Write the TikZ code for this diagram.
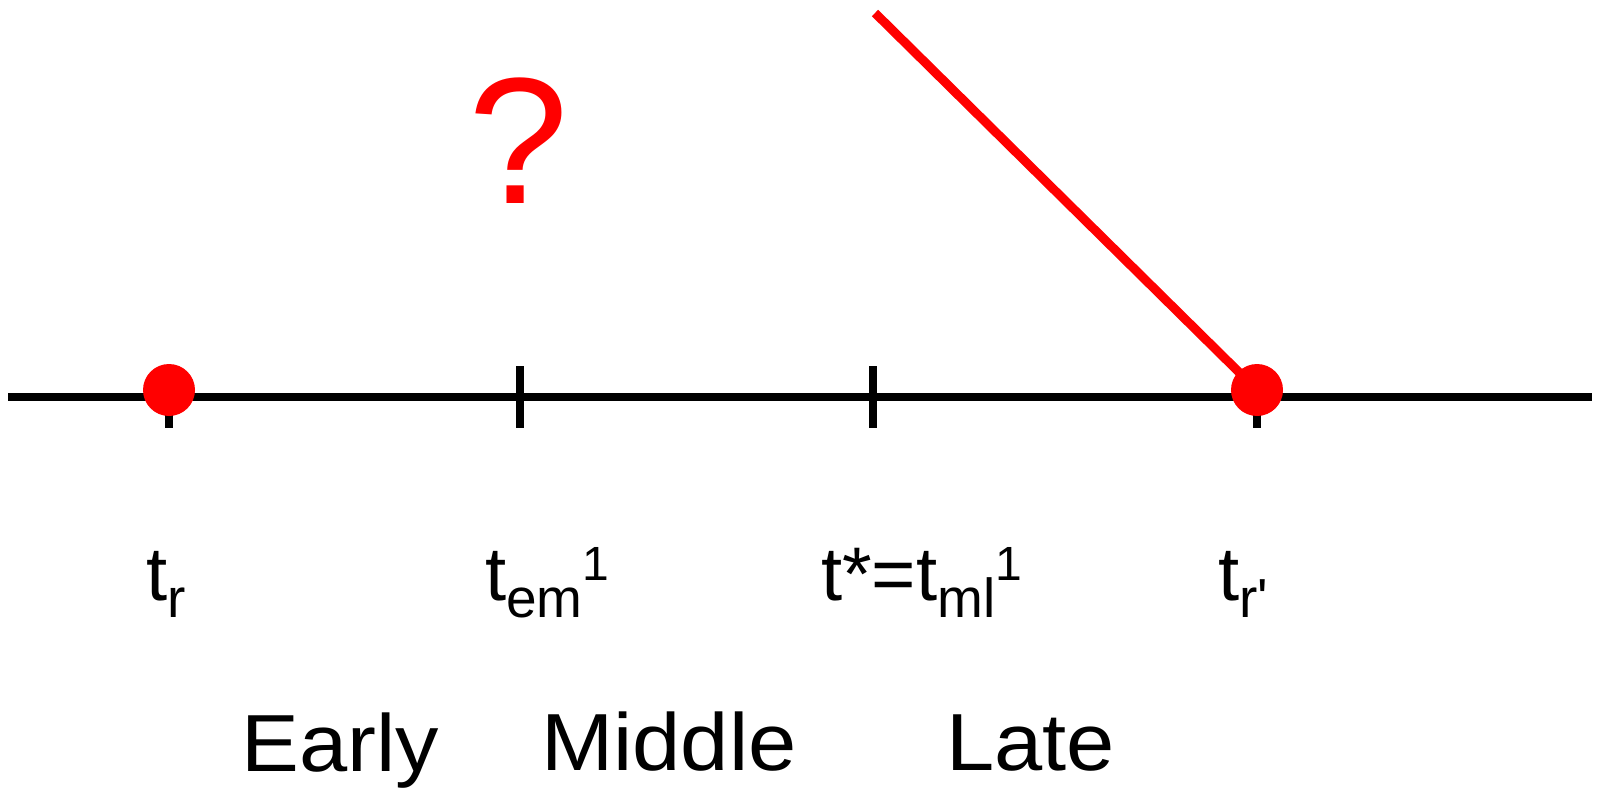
\documentclass[tikz,border=0pt]{standalone}
\usepackage{graphicx}
\usepackage{fontspec}
\setmainfont{Liberation Sans}
\newfontfamily\plainfont{Liberation Sans}
\newcommand{\lowr}[1]{\raisebox{-17pt}{\fontsize{55}{55}\selectfont #1}}
\newcommand{\highr}[1]{\raisebox{20pt}{\fontsize{48}{48}\selectfont #1}}
\newcommand{\wide}[1]{\scalebox{1.07}[1]{#1}}
\tikzset{
  axisline/.style={line width=8pt},
  tickmark/.style={line width=8pt},
  reddot/.style={circle, fill=red, inner sep=0pt, minimum size=52pt},
  redline/.style={red, line width=9pt},
  lbl/.style={anchor=base west, inner sep=0pt, font=\fontsize{76}{76}\selectfont},
  phase/.style={anchor=base west, inner sep=0pt, font=\fontsize{81}{81}\selectfont},
}
\begin{document}
\begin{tikzpicture}[x=1pt,y=-1pt]
\useasboundingbox (0,0) rectangle (1597,794);
\coordinate (L) at (8,397);
\coordinate (R) at (1592,397);
\draw[axisline] (L) -- (R);
% ticks
\coordinate (atop) at (169,366); \coordinate (abot) at (169,428);
\coordinate (btop) at (520,366); \coordinate (bbot) at (520,428);
\coordinate (ctop) at (873,366); \coordinate (cbot) at (873,428);
\coordinate (dtop) at (1257,366); \coordinate (dbot) at (1257,428);
\draw[tickmark] (atop) -- (abot);
\draw[tickmark] (btop) -- (bbot);
\draw[tickmark] (ctop) -- (cbot);
\draw[tickmark] (dtop) -- (dbot);
\node[reddot] (d1) at (169,390) {};
\coordinate (lineend) at (875,13);
\coordinate (d2c) at (1257,390);
\draw[redline] (lineend) -- (d2c);
\node[reddot] (d2) at (d2c) {};
% question mark
\node[anchor=base, inner sep=0pt, text=red, font=\fontsize{180}{180}\selectfont] (q) at (519,204) {?};
% labels
\node[lbl] (t1) at (146,600) {t\lowr{r}};
\node[lbl] (t2) at (485,600) {t\lowr{em}\highr{1}};
\node[lbl] (t3) at (821,600) {t*=t\lowr{ml}\highr{1}};
\node[lbl] (t4) at (1218,600) {t\lowr{r{\plainfont '}}};
\node[phase] (e) at (241,771) {\wide{Early}};
\node[phase] (m) at (541,770) {\wide{Middle}};
\node[phase] (l) at (946,770) {\wide{Late}};
\end{tikzpicture}
\end{document}
